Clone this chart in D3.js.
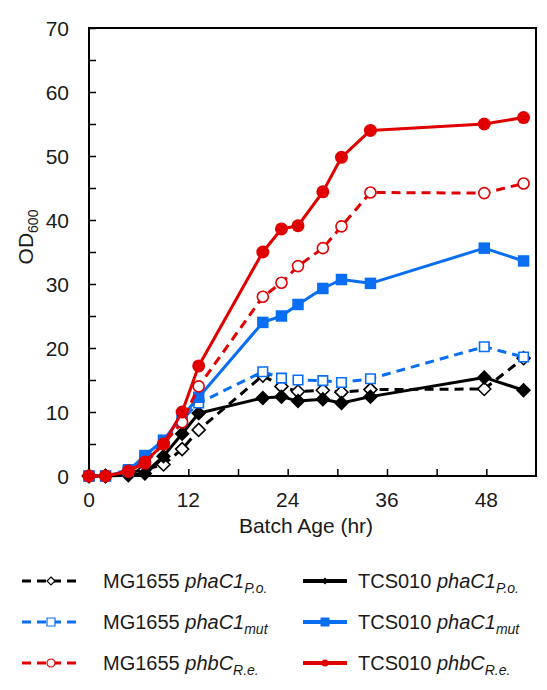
<!DOCTYPE html>
<html>
<head>
<meta charset="utf-8">
<script src="https://cdn.jsdelivr.net/npm/d3@7"></script>
<style>
  body { margin: 0; background: #fff; }
  svg { font-family: "Liberation Sans", Arial, sans-serif; }
</style>
</head>
<body>
<svg id="chart" width="547" height="690"></svg>
<script>
// batch age (hr) sampling times
let hours = [0, 2, 4.75, 6.75, 9, 11.25, 13.25, 21, 23.25, 25.25, 28.25, 30.5, 34, 47.75, 52.5];

// OD600 values
let mgPo  = [0, 0, 0.5, 1, 1.8, 4.2, 7.2, 15.7, 14, 13.2, 13.4, 13.1, 13.5, 13.6, 18.4];
let tcsPo = [0, 0, 0.1, 0.4, 3.1, 6.6, 9.8, 12.2, 12.4, 11.7, 12, 11.4, 12.4, 15.4, 13.4];
let mgMut = [0, 0, 1, 2.8, 5.4, 8.8, 11.4, 16.3, 15.3, 15, 14.9, 14.6, 15.2, 20.2, 18.6];
let tcsMut = [0, 0, 0.8, 3.2, 5.6, 9.3, 12.3, 24, 25, 26.8, 29.3, 30.7, 30.1, 35.6, 33.6];
let mgPhb = [0, 0, 0.8, 2, 5, 8.4, 14, 28, 30.2, 32.8, 35.6, 39, 44.3, 44.2, 45.7];
let tcsPhb = [0, 0, 0.7, 2.2, 5, 10, 17.2, 35, 38.6, 39.1, 44.4, 49.8, 54, 55, 56];

let xTicks = [0, 12, 24, 36, 48];
let yTicks = [0, 10, 20, 30, 40, 50, 60, 70];

let red = "#e00000", blue = "#0a6ef2", black = "#000000";

let series = [
  { strain: "MG1655", gene: "phaC1", sub: "P.o.", values: mgPo, color: black, dashed: true, shape: "diamond", filled: false },
  { strain: "TCS010", gene: "phaC1", sub: "P.o.", values: tcsPo, color: black, dashed: false, shape: "diamond", filled: true },
  { strain: "MG1655", gene: "phaC1", sub: "mut", values: mgMut, color: blue, dashed: true, shape: "square", filled: false },
  { strain: "TCS010", gene: "phaC1", sub: "mut", values: tcsMut, color: blue, dashed: false, shape: "square", filled: true },
  { strain: "MG1655", gene: "phbC", sub: "R.e.", values: mgPhb, color: red, dashed: true, shape: "circle", filled: false },
  { strain: "TCS010", gene: "phbC", sub: "R.e.", values: tcsPhb, color: red, dashed: false, shape: "circle", filled: true }
];

let svg = d3.select("#chart");
let plotLeft = 89, plotTop = 28, plotRight = 536, plotBottom = 476;

let xScale = d3.scaleLinear().domain([0, 54]).range([plotLeft, plotRight]);
let yScale = d3.scaleLinear().domain([0, 70]).range([plotBottom, plotTop]);

// frame
svg.append("rect")
  .attr("x", plotLeft).attr("y", plotTop)
  .attr("width", plotRight - plotLeft).attr("height", plotBottom - plotTop)
  .attr("fill", "none").attr("stroke", "#000").attr("stroke-width", 2);

// y axis, inward ticks every 5
let yAxis = svg.append("g")
  .attr("transform", "translate(" + plotLeft + ",0)")
  .call(d3.axisRight(yScale).tickValues(d3.range(0, 71, 5)).tickSize(7).tickFormat(""));
yAxis.select(".domain").remove();
yAxis.selectAll("line").attr("stroke-width", 1.5);

svg.selectAll(".ylab")
  .data(yTicks)
  .enter().append("text")
  .attr("class", "ylab")
  .attr("x", plotLeft - 20)
  .attr("y", function (d) { return yScale(d); })
  .attr("dy", "0.36em")
  .attr("text-anchor", "end")
  .attr("font-size", 21)
  .attr("fill", "#1a1a1a")
  .text(function (d) { return d; });

// x axis, inward ticks every 6
let xAxis = svg.append("g")
  .attr("transform", "translate(0," + plotBottom + ")")
  .call(d3.axisTop(xScale).tickValues(d3.range(0, 54, 6)).tickSize(7).tickFormat(""));
xAxis.select(".domain").remove();
xAxis.selectAll("line").attr("stroke-width", 1.5);

svg.selectAll(".xlab")
  .data(xTicks)
  .enter().append("text")
  .attr("class", "xlab")
  .attr("x", function (d) { return xScale(d); })
  .attr("y", plotBottom + 31)
  .attr("text-anchor", "middle")
  .attr("font-size", 21)
  .attr("fill", "#1a1a1a")
  .text(function (d) { return d; });

svg.append("text")
  .attr("x", 306).attr("y", 533)
  .attr("text-anchor", "middle")
  .attr("font-size", 21)
  .attr("fill", "#1a1a1a")
  .text("Batch Age (hr)");

let yt = svg.append("text")
  .attr("transform", "translate(33,237) rotate(-90)")
  .attr("text-anchor", "middle")
  .attr("font-size", 21)
  .attr("fill", "#1a1a1a");
yt.append("tspan").text("OD");
yt.append("tspan").attr("font-size", 14).attr("dy", 5).text("600");

function markerPath(shape, size) {
  let h = size / 2;
  if (shape === "diamond") return "M0," + (-h) + "L" + h + ",0L0," + h + "L" + (-h) + ",0Z";
  if (shape === "square") return "M" + (-h) + "," + (-h) + "H" + h + "V" + h + "H" + (-h) + "Z";
  return d3.symbol().type(d3.symbolCircle).size(Math.PI * h * h)();
}
function markerSize(shape) {
  if (shape === "diamond") return 15;
  if (shape === "square") return 11.5;
  return 13;
}

let line = d3.line()
  .x(function (d) { return xScale(d[0]); })
  .y(function (d) { return yScale(d[1]); });

series.forEach(function (s) {
  let pts = hours.map(function (h, i) { return [h, s.values[i]]; });
  let g = svg.append("g");
  g.append("path")
    .datum(pts)
    .attr("d", line)
    .attr("fill", "none")
    .attr("stroke", s.color)
    .attr("stroke-width", 3)
    .attr("stroke-linejoin", "round")
    .attr("stroke-dasharray", s.dashed ? "9,6" : null);
  g.selectAll(".pt")
    .data(pts)
    .enter().append("path")
    .attr("class", "pt")
    .attr("transform", function (d) { return "translate(" + xScale(d[0]) + "," + yScale(d[1]) + ")"; })
    .attr("d", markerPath(s.shape, markerSize(s.shape) - (s.filled ? 0 : 2)))
    .attr("fill", s.filled ? s.color : "#fff")
    .attr("stroke", s.color)
    .attr("stroke-width", s.filled ? 0 : 1.6);
});

// legend
let rowY = [581, 622, 663];
series.forEach(function (s, i) {
  let col = i % 2, row = Math.floor(i / 2);
  let y = rowY[row];
  let x0 = col === 0 ? 22 : 303, x1 = col === 0 ? 80 : 347;
  let g = svg.append("g");
  g.append("line")
    .attr("x1", x0).attr("x2", x1).attr("y1", y).attr("y2", y)
    .attr("stroke", s.color).attr("stroke-width", s.dashed ? 3 : 4)
    .attr("stroke-dasharray", s.dashed ? "9,6" : null);
  let ms = s.filled ? 7 : 8;
  if (s.shape === "square") ms = s.filled ? 9 : 8;
  g.append("path")
    .attr("transform", "translate(" + ((x0 + x1) / 2) + "," + y + ")")
    .attr("d", markerPath(s.shape, ms))
    .attr("fill", s.filled ? s.color : "#fff")
    .attr("stroke", s.color)
    .attr("stroke-width", s.filled ? 0 : 1.2);
  let t = g.append("text")
    .attr("x", col === 0 ? 103 : 358)
    .attr("y", y + 7)
    .attr("font-size", 20)
    .attr("fill", "#1a1a1a");
  t.append("tspan").text(s.strain + " ");
  t.append("tspan").attr("font-style", "italic").text(s.gene);
  t.append("tspan").attr("font-style", "italic").attr("font-size", 14).attr("dy", 5).text(s.sub);
});
</script>
</body>
</html>
